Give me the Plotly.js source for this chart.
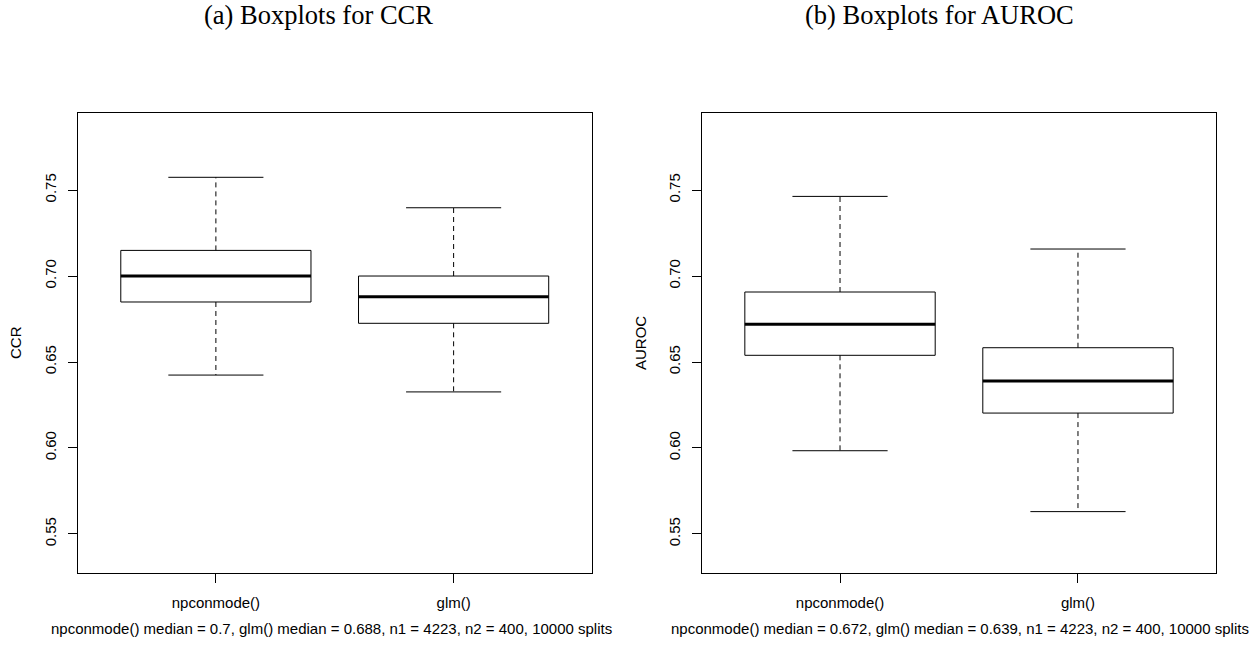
<!DOCTYPE html>
<html>
<head>
<meta charset="utf-8">
<script src="https://cdn.plot.ly/plotly-3.0.1.min.js"></script>
<style>
html,body{margin:0;padding:0;background:#fff;}
#chart{width:1255px;height:667px;}
</style>
</head>
<body>
<div id="chart"></div>
<script>
// ---- data ----
const categories = ['npconmode()', 'glm()'];
const yTicks = [0.55, 0.60, 0.65, 0.70, 0.75];

// (a) CCR
const ccrLower  = [0.6424, 0.6326];
const ccrQ1     = [0.6849, 0.6725];
const ccrMedian = [0.700, 0.688];
const ccrQ3     = [0.7149, 0.7000];
const ccrUpper  = [0.7574, 0.7397];

// (b) AUROC
const aurocLower  = [0.5984, 0.5630];
const aurocQ1     = [0.6539, 0.6203];
const aurocMedian = [0.672, 0.639];
const aurocQ3     = [0.6907, 0.6583];
const aurocUpper  = [0.7463, 0.7157];

const titleA = '(a) Boxplots for CCR';
const titleB = '(b) Boxplots for AUROC';
const subA = 'npconmode() median = 0.7, glm() median = 0.688, n1 = 4223, n2 = 400, 10000 splits';
const subB = 'npconmode() median = 0.672, glm() median = 0.639, n1 = 4223, n2 = 400, 10000 splits';

// ---- styling constants ----
const HALF = 0.4;   // half box width (x units)
const CAP = 0.2;    // half staple width
const SANS = 'Liberation Sans, Arial, sans-serif';
const SERIF = 'Liberation Serif, Times New Roman, serif';

function boxTraces(lower, q1, med, q3, upper, xa, ya) {
  const bx = [], by = [], wx = [], wy = [], cx = [], cy = [], mx = [], my = [];
  categories.forEach((c, i) => {
    const p = i + 1;
    bx.push(p - HALF, p + HALF, p + HALF, p - HALF, p - HALF, null);
    by.push(q1[i], q1[i], q3[i], q3[i], q1[i], null);
    wx.push(p, p, null, p, p, null);
    wy.push(q3[i], upper[i], null, q1[i], lower[i], null);
    cx.push(p - CAP, p + CAP, null, p - CAP, p + CAP, null);
    cy.push(upper[i], upper[i], null, lower[i], lower[i], null);
    mx.push(p - HALF, p + HALF, null);
    my.push(med[i], med[i], null);
  });
  const base = {type: 'scatter', mode: 'lines', xaxis: xa, yaxis: ya, hoverinfo: 'skip', showlegend: false};
  return [
    Object.assign({}, base, {x: wx, y: wy, line: {color: '#000', width: 1, dash: '5px,4px'}}),
    Object.assign({}, base, {x: cx, y: cy, line: {color: '#000', width: 1}}),
    Object.assign({}, base, {x: bx, y: by, line: {color: '#000', width: 1}}),
    Object.assign({}, base, {x: mx, y: my, line: {color: '#000', width: 3}})
  ];
}

const traces = [].concat(
  boxTraces(ccrLower, ccrQ1, ccrMedian, ccrQ3, ccrUpper, 'x', 'y'),
  boxTraces(aurocLower, aurocQ1, aurocMedian, aurocQ3, aurocUpper, 'x2', 'y2')
);

const W = 1255, H = 667;
const plotTop = 113, plotBottom = 573;
const yDomain = [1 - plotBottom / H, 1 - plotTop / H];
const xDomA = [78 / W, 591.5 / W];
const xDomB = [702 / W, 1216 / W];

function xAxis(dom, anchor) {
  return {
    domain: dom, anchor: anchor, range: [0.42, 2.58],
    tickmode: 'array', tickvals: categories.map((c, i) => i + 1), ticktext: categories,
    ticks: 'outside', ticklen: 9, tickwidth: 1, tickcolor: '#000',
    ticklabelstandoff: 7,
    showline: true, mirror: true, linecolor: '#000', linewidth: 1,
    showgrid: false, zeroline: false,
    tickfont: {family: SANS, size: 15, color: '#000'}
  };
}
function yAxis(anchor) {
  return {
    domain: yDomain, anchor: anchor, range: [0.5273, 0.7948],
    tickmode: 'array', tickvals: yTicks, ticktext: yTicks.map(v => v.toFixed(2)),
    tickangle: -90,
    ticks: 'outside', ticklen: 9, tickwidth: 1, tickcolor: '#000',
    ticklabelstandoff: 6,
    showline: true, mirror: true, linecolor: '#000', linewidth: 1,
    showgrid: false, zeroline: false,
    tickfont: {family: SANS, size: 15, color: '#000'}
  };
}

const layout = {
  width: W, height: H,
  margin: {l: 0, r: 0, t: 0, b: 0},
  paper_bgcolor: '#fff', plot_bgcolor: '#fff',
  showlegend: false, hovermode: false,
  xaxis: xAxis(xDomA, 'y'),
  yaxis: yAxis('x'),
  xaxis2: xAxis(xDomB, 'y2'),
  yaxis2: yAxis('x2'),
  annotations: [
    {text: titleA, xref: 'paper', yref: 'paper', x: 318.5 / W, y: 1 - 15 / H, xanchor: 'center', yanchor: 'middle', showarrow: false, font: {family: SERIF, size: 26.5, color: '#000'}},
    {text: titleB, xref: 'paper', yref: 'paper', x: 939 / W, y: 1 - 15 / H, xanchor: 'center', yanchor: 'middle', showarrow: false, font: {family: SERIF, size: 26.5, color: '#000'}},
    {text: 'CCR', xref: 'paper', yref: 'paper', x: 16 / W, y: 1 - 343 / H, xanchor: 'center', yanchor: 'middle', textangle: -90, showarrow: false, font: {family: SANS, size: 15, color: '#000'}},
    {text: 'AUROC', xref: 'paper', yref: 'paper', x: 641 / W, y: 1 - 343 / H, xanchor: 'center', yanchor: 'middle', textangle: -90, showarrow: false, font: {family: SANS, size: 15, color: '#000'}},
    {text: subA, xref: 'paper', yref: 'paper', x: 331 / W, y: 1 - 628 / H, xanchor: 'center', yanchor: 'middle', showarrow: false, font: {family: SANS, size: 15, color: '#000'}},
    {text: subB, xref: 'paper', yref: 'paper', x: 960 / W, y: 1 - 628 / H, xanchor: 'center', yanchor: 'middle', showarrow: false, font: {family: SANS, size: 15, color: '#000'}}
  ]
};

Plotly.newPlot('chart', traces, layout, {displayModeBar: false, staticPlot: true});
</script>
</body>
</html>
